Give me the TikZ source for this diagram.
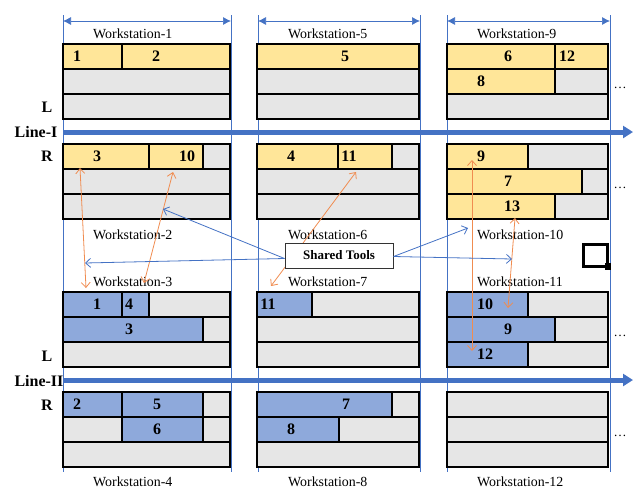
\documentclass[tikz,border=0pt]{standalone}
\usepackage{fontspec}
\setmainfont{Liberation Serif}
\usetikzlibrary{arrows.meta}
\definecolor{slotY}{HTML}{FFE699}
\definecolor{slotB}{HTML}{8EA9DB}
\definecolor{slotG}{HTML}{E6E6E6}
\definecolor{lineblue}{HTML}{4472C4}
\definecolor{linkorange}{RGB}{240,140,80}
% one slot of a station row: x-from, x-to, top, fill
\newcommand\cell[4]{\filldraw[slotbox,fill=#4] (#1,#3) rectangle (#2,#3+25);}
% task number inside a slot: name, x, y, text
\newcommand\num[4]{\node[numtxt] (#1) at (#2,#3) {#4};}
\begin{document}
\begin{tikzpicture}[x=1pt,y=-1pt,
  slotbox/.style={draw=black,line width=1.6pt},
  numtxt/.style={font=\bfseries\fontsize{16}{16}\selectfont,inner sep=0pt},
  wslabel/.style={font=\fontsize{13.9}{14}\selectfont,inner sep=0pt,anchor=west},
  sidelabel/.style={font=\bfseries\fontsize{16}{16}\selectfont,inner sep=0pt},
  dots/.style={font=\fontsize{13}{13}\selectfont,inner sep=0pt},
  guide/.style={draw=lineblue,line width=0.7pt},
  span/.style={guide,{Latex[length=8pt,width=8pt]}-{Latex[length=8pt,width=8pt]}},
  flowline/.style={draw=lineblue,line width=5pt,-{Triangle[length=10pt,width=12pt]}},
  tool/.style={draw=lineblue,line width=0.8pt,-{Straight Barb[length=5pt,width=9pt]}},
  link/.style={draw=linkorange,line width=0.8pt,{Straight Barb[length=5pt,width=9pt]}-{Straight Barb[length=5pt,width=9pt]}},
  toolbox/.style={draw=black!80,line width=1pt,fill=white,minimum width=108pt,minimum height=25pt,inner sep=0pt,font=\bfseries\fontsize{13}{13}\selectfont}
]
\useasboundingbox (0,0) rectangle (634,493);

% column guides
\foreach \gx in {63,231,258,420,447,610}
  \draw[guide] (\gx,15) -- (\gx,472);
\coordinate (s1a) at (63,21);  \coordinate (s1b) at (231,21);
\coordinate (s2a) at (258,21); \coordinate (s2b) at (420,21);
\coordinate (s3a) at (447,21); \coordinate (s3b) at (610,21);
\draw[span] (s1a) -- (s1b);
\draw[span] (s2a) -- (s2b);
\draw[span] (s3a) -- (s3b);

% ---------- Line I, left side ----------
\cell{63}{122}{44}{slotY}\cell{122}{230}{44}{slotY}
\cell{63}{230}{69}{slotG}\cell{63}{230}{94}{slotG}
\cell{257}{419}{44}{slotY}
\cell{257}{419}{69}{slotG}\cell{257}{419}{94}{slotG}
\cell{447}{555}{44}{slotY}\cell{555}{608}{44}{slotY}
\cell{447}{555}{69}{slotY}\cell{555}{608}{69}{slotG}
\cell{447}{608}{94}{slotG}
\num{a1}{77}{56.5}{1}\num{a2}{156}{56.5}{2}
\num{a5}{345}{56.5}{5}
\num{a6}{508}{56.5}{6}\num{a12}{567}{56.5}{12}
\num{a8}{481}{81.5}{8}

% ---------- Line I, right side ----------
\cell{63}{149}{144}{slotY}\cell{149}{203}{144}{slotY}\cell{203}{230}{144}{slotG}
\cell{63}{230}{169}{slotG}\cell{63}{230}{194}{slotG}
\cell{257}{338}{144}{slotY}\cell{338}{392}{144}{slotY}\cell{392}{419}{144}{slotG}
\cell{257}{419}{169}{slotG}\cell{257}{419}{194}{slotG}
\cell{447}{528}{144}{slotY}\cell{528}{608}{144}{slotG}
\cell{447}{582}{169}{slotY}\cell{582}{608}{169}{slotG}
\cell{447}{555}{194}{slotY}\cell{555}{608}{194}{slotG}
\num{b3}{97}{156.5}{3}\num{b10}{187}{156.5}{10}
\num{b4}{291}{156.5}{4}\num{b11}{349}{156.5}{11}
\num{b9}{481}{156.5}{9}\num{b7}{508}{181.5}{7}\num{b13}{512}{206.5}{13}

% ---------- Line II, left side ----------
\cell{63}{122}{292}{slotB}\cell{122}{149}{292}{slotB}\cell{149}{230}{292}{slotG}
\cell{63}{203}{317}{slotB}\cell{203}{230}{317}{slotG}
\cell{63}{230}{342}{slotG}
\cell{257}{312}{292}{slotB}\cell{312}{419}{292}{slotG}
\cell{257}{419}{317}{slotG}\cell{257}{419}{342}{slotG}
\cell{447}{528}{292}{slotB}\cell{528}{608}{292}{slotG}
\cell{447}{555}{317}{slotB}\cell{555}{608}{317}{slotG}
\cell{447}{528}{342}{slotB}\cell{528}{608}{342}{slotG}
\num{c1}{97}{304.5}{1}\num{c4}{129}{304.5}{4}\num{c3}{129}{329.5}{3}
\num{c11}{268}{304.5}{11}
\num{c10}{485}{304.5}{10}\num{c9}{508}{329.5}{9}\num{c12}{485}{354.5}{12}

% ---------- Line II, right side ----------
\cell{63}{122}{392}{slotB}\cell{122}{203}{392}{slotB}\cell{203}{230}{392}{slotG}
\cell{63}{122}{417}{slotG}\cell{122}{203}{417}{slotB}\cell{203}{230}{417}{slotG}
\cell{63}{230}{442}{slotG}
\cell{257}{392}{392}{slotB}\cell{392}{419}{392}{slotG}
\cell{257}{339}{417}{slotB}\cell{339}{419}{417}{slotG}
\cell{257}{419}{442}{slotG}
\cell{447}{608}{392}{slotG}\cell{447}{608}{417}{slotG}\cell{447}{608}{442}{slotG}
\num{d2}{77}{404.5}{2}\num{d5}{157}{404.5}{5}\num{d6}{157}{429.5}{6}
\num{d7}{346}{404.5}{7}\num{d8}{291}{429.5}{8}

% continuation marks
\node[dots] (e1) at (620,88) {…};
\node[dots] (e2) at (620,188) {…};
\node[dots] (e3) at (620,336) {…};
\node[dots] (e4) at (620,436) {…};

% production lines
\coordinate (l1s) at (63,132);  \coordinate (l1e) at (633,132);
\coordinate (l2s) at (63,380);  \coordinate (l2e) at (633,380);
\draw[flowline] (l1s) -- (l1e);
\draw[flowline] (l2s) -- (l2e);
\node[sidelabel] (sL1) at (47,107) {L};
\node[sidelabel] (line1) at (36,132) {Line-I};
\node[sidelabel] (sR1) at (47,156) {R};
\node[sidelabel] (sL2) at (47,356) {L};
\node[sidelabel] (line2) at (39,381) {Line-II};
\node[sidelabel] (sR2) at (47,405) {R};

% station names
\node[wslabel] (w1) at (93,34) {Workstation-1};
\node[wslabel] (w5) at (288,34) {Workstation-5};
\node[wslabel] (w9) at (477,34) {Workstation-9};
\node[wslabel] (w2) at (93,235) {Workstation-2};
\node[wslabel] (w6) at (288,235) {Workstation-6};
\node[wslabel] (w10) at (477,235) {Workstation-10};
\node[wslabel] (w3) at (93,282) {Workstation-3};
\node[wslabel] (w7) at (288,282) {Workstation-7};
\node[wslabel] (w11) at (477,282) {Workstation-11};
\node[wslabel] (w4) at (93,482) {Workstation-4};
\node[wslabel] (w8) at (288,482) {Workstation-8};
\node[wslabel] (w12) at (477,482) {Workstation-12};

% task links between the two lines
\coordinate (o1a) at (80,168);  \coordinate (o1b) at (86,288);
\coordinate (o2a) at (173,172); \coordinate (o2b) at (144,283);
\coordinate (o3a) at (356,172); \coordinate (o3b) at (271,286);
\coordinate (o4a) at (472,160); \coordinate (o4b) at (472,351);
\coordinate (o5a) at (515,218); \coordinate (o5b) at (508,308);
\draw[link] (o1a) -- (o1b);
\draw[link] (o2a) -- (o2b);
\draw[link] (o3a) -- (o3b);
\draw[link] (o4a) -- (o4b);
\draw[link] (o5a) -- (o5b);

% shared tools
\node[toolbox] (shared) at (339,255.5) {Shared Tools};
\coordinate (t1) at (163,209);
\coordinate (t2) at (85,263);
\coordinate (t3) at (468,228);
\coordinate (t4) at (512,259);
\draw[tool] ([yshift=-3pt]shared.west) -- (t1);
\draw[tool] ([yshift=-3pt]shared.west) -- (t2);
\draw[tool] ([yshift=-1pt]shared.east) -- (t3);
\draw[tool] ([yshift=-1pt]shared.east) -- (t4);

% small marker square
\draw[line width=3pt] (583,244) rectangle (607,266);
\fill (605,263) rectangle (611,270);
\end{tikzpicture}
\end{document}
